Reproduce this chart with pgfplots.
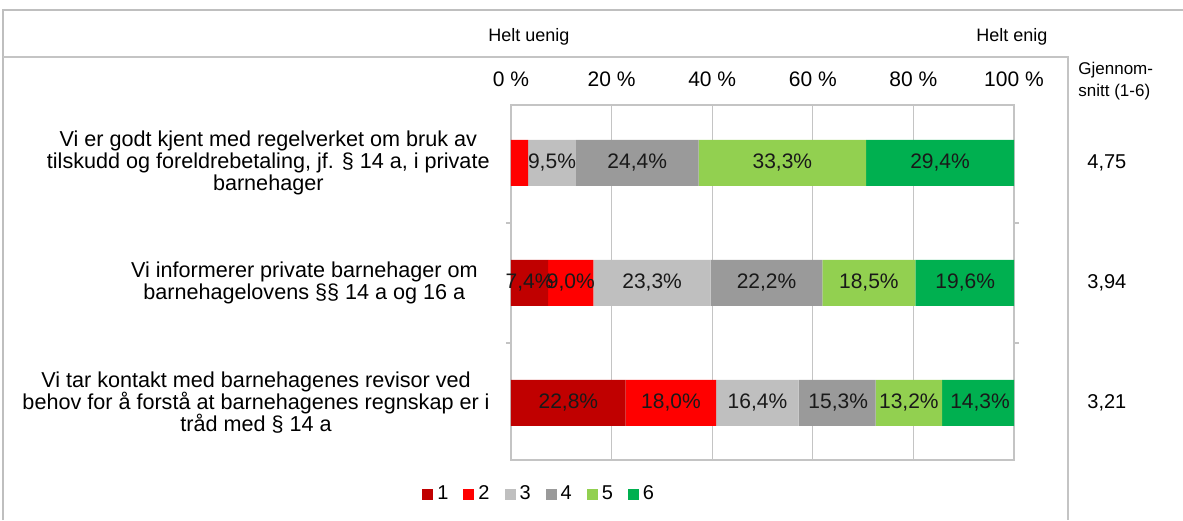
\documentclass[border=0pt]{standalone}
\usepackage{fontspec}
\setmainfont{Liberation Sans}
\usepackage{pgfplots}
\pgfplotsset{compat=1.18}
\usepackage{pgfplotstable}
\definecolor{c1}{HTML}{C00000}
\definecolor{c2}{HTML}{FF0000}
\definecolor{c3}{HTML}{BFBFBF}
\definecolor{c4}{HTML}{9A9A9A}
\definecolor{c5}{HTML}{92D050}
\definecolor{c6}{HTML}{00B050}
\definecolor{framegray}{HTML}{BFBFBF}
\definecolor{gridgray}{HTML}{C4C4C4}
\pgfplotsset{sqleg/.style={legend image code/.code={\fill[##1,draw=none] (0pt,-2.75pt) rectangle (5.5pt,2.75pt);}}}
\pgfplotsset{/pgf/number format/assume math mode=true}

\pgfplotstableread{
x y
0 0
7.4 1
22.8 2
}\sA
\pgfplotstableread{
x y
3.4 0
9.0 1
18.0 2
}\sB
\pgfplotstableread{
x y
9.5 0
23.3 1
16.4 2
}\sC
\pgfplotstableread{
x y
24.4 0
22.2 1
15.3 2
}\sD
\pgfplotstableread{
x y
33.3 0
18.5 1
13.2 2
}\sE
\pgfplotstableread{
x y
29.4 0
19.6 1
14.3 2
}\sF
% label centres (cumulative - value/2) and values
\pgfplotstableread{
x y v
8.15 0 9.5
25.1 0 24.4
53.95 0 33.3
85.3 0 29.4
3.7 1 7.4
11.9 1 9.0
28.05 1 23.3
50.8 1 22.2
71.15 1 18.5
90.3 1 19.6
11.4 2 22.8
31.8 2 18.0
49.0 2 16.4
65.05 2 15.3
79.1 2 13.2
93.25 2 14.3
}\labs

\pgfplotsset{commonax/.style={
  at={(255.5pt,30pt)}, anchor=south west,
  scale only axis, width=251.5pt, height=177.5pt,
  xmin=0, xmax=100, ymin=-0.483, ymax=2.475, y dir=reverse,
}}

\begin{document}
\begin{tikzpicture}
\begin{scope}[x=0.5pt,y=0.5pt]
\path[use as bounding box] (0,0) rectangle (1183,520);
\draw[framegray, line width=1.2pt] (3,0) -- (3,510) -- (1183,510);
\draw[gridgray, line width=0.6pt] (3,463) -- (1068,463) -- (1068,0);
\node[font=\fontsize{9}{10}\selectfont] at (529,483) {Helt uenig};
\node[font=\fontsize{9}{10}\selectfont] at (1012,483) {Helt enig};
\node[font=\fontsize{8.5}{11}\selectfont, anchor=north west, align=left, inner sep=0pt] at (1078,458) {Gjennom-\\snitt (1-6)};
\node[font=\fontsize{10}{11}\selectfont, anchor=west, inner sep=0pt] at (1087,357) {4,75};
\node[font=\fontsize{10}{11}\selectfont, anchor=west, inner sep=0pt] at (1087,237) {3,94};
\node[font=\fontsize{10}{11}\selectfont, anchor=west, inner sep=0pt] at (1087,117) {3,21};
\end{scope}
\begin{axis}[commonax,
  xbar stacked, bar width=23pt,
  xtick={0,20,40,60,80,100},
  xticklabels={0 \%,20 \%,40 \%,60 \%,80 \%,100 \%},
  xticklabel pos=upper,
  xticklabel style={font=\fontsize{10.5}{12}\selectfont, yshift=5.5pt},
  xtick style={draw=none},
  xmajorgrids, grid style={gridgray, line width=0.6pt},
  axis line style={gridgray, line width=0.6pt},
  ytick={0,1,2},
  yticklabels={{Vi er godt kjent med regelverket om bruk av\\tilskudd og foreldrebetaling, jf. § 14 a, i private\\barnehager},
               {Vi informerer private barnehager om\hspace*{6pt}\\barnehagelovens §§ 14 a og 16 a\hspace*{6pt}},
               {Vi tar kontakt med barnehagenes revisor ved\\behov for å forstå at barnehagenes regnskap er i\\tråd med § 14 a}},
  yticklabel style={font=\fontsize{10.8}{11}\selectfont, align=center, anchor=east, inner sep=0pt, xshift=-10.5pt},
  ytick style={draw=none},
  extra y ticks={0.5,1.5},
  extra y tick labels={},
  extra y tick style={ytick style={draw=gridgray, line width=0.6pt}, tick align=outside, major tick length=2.5pt},
  legend style={at={(0.058,-0.096)}, anchor=center, draw=none, fill=none,
     font=\fontsize{10}{11}\selectfont, legend columns=6,
     /tikz/every even column/.append style={column sep=5.5pt}},
  legend cell align=left,
  clip=false,
]
\addplot[fill=c1, draw=none, sqleg] table[x=x,y=y]{\sA};
\addplot[fill=c2, draw=none, sqleg] table[x=x,y=y]{\sB};
\addplot[fill=c3, draw=none, sqleg] table[x=x,y=y]{\sC};
\addplot[fill=c4, draw=none, sqleg] table[x=x,y=y]{\sD};
\addplot[fill=c5, draw=none, sqleg] table[x=x,y=y]{\sE};
\addplot[fill=c6, draw=none, sqleg] table[x=x,y=y]{\sF};
\legend{1,2,3,4,5,6}
\end{axis}
\begin{axis}[commonax, hide axis, clip=false]
\addplot[draw=none, mark=none, point meta=explicit,
  nodes near coords={\pgfmathprintnumber[fixed, fixed zerofill, precision=1, use comma]{\pgfplotspointmeta}\%},
  nodes near coords align=center,
  every node near coord/.append style={font=\fontsize{10.5}{11}\selectfont, text=black!90, inner sep=0pt}]
  table[x=x,y=y,meta=v]{\labs};
\end{axis}
\end{tikzpicture}
\end{document}
